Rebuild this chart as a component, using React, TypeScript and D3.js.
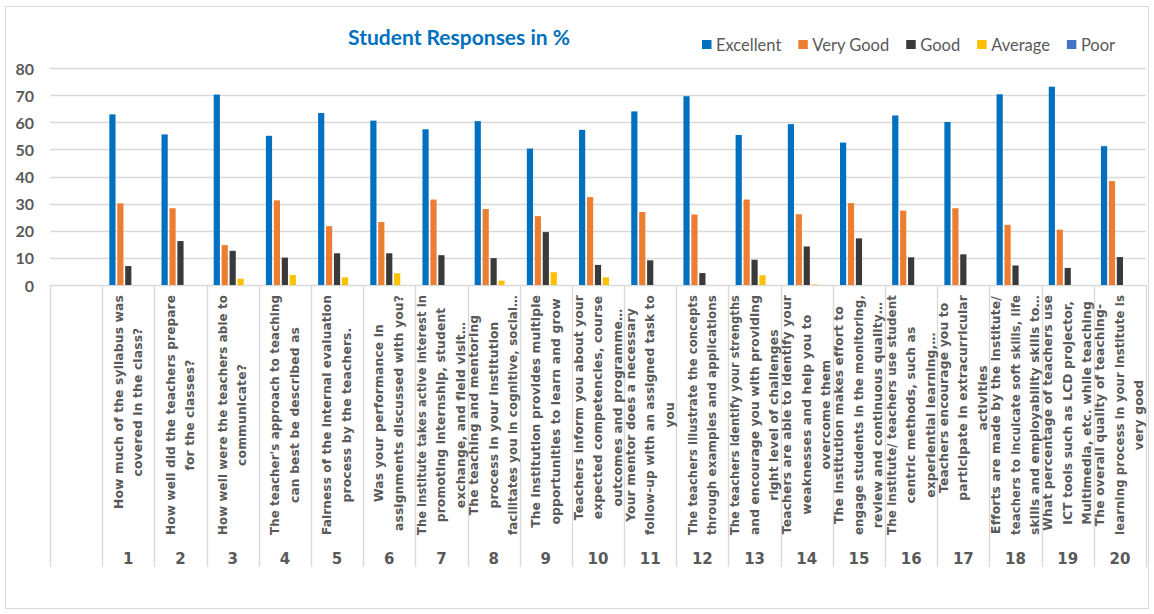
import { useEffect, useRef } from 'react';
import * as d3 from 'd3';

const chartTitle = 'Student Responses in %';
const seriesNames = ['Excellent', 'Very Good', 'Good', 'Average', 'Poor'];
const seriesColors = ['#0070C0', '#ED7D31', '#3A3A3A', '#FFC000', '#4472C4'];
const questionNumbers = ['1', '2', '3', '4', '5', '6', '7', '8', '9', '10', '11', '12', '13', '14', '15', '16', '17', '18', '19', '20'];

const excellent = [62.9, 55.5, 70.2, 55.0, 63.4, 60.6, 57.4, 60.4, 50.3, 57.2, 64.0, 69.6, 55.3, 59.3, 52.5, 62.5, 60.1, 70.3, 73.1, 51.2];
const veryGood = [30.1, 28.3, 14.7, 31.2, 21.7, 23.2, 31.5, 28.0, 25.4, 32.4, 26.9, 26.0, 31.5, 26.1, 30.2, 27.4, 28.3, 22.2, 20.4, 38.3];
const good = [7.0, 16.2, 12.6, 10.1, 11.7, 11.7, 11.0, 9.9, 19.5, 7.4, 9.1, 4.4, 9.3, 14.2, 17.2, 10.2, 11.3, 7.2, 6.3, 10.3];
const average = [0, 0, 2.3, 3.7, 2.8, 4.3, 0, 1.6, 4.7, 2.8, 0, 0, 3.6, 0.2, 0, 0, 0, 0, 0, 0];
const poor = [0, 0, 0, 0, 0, 0, 0, 0, 0, 0, 0, 0, 0, 0, 0, 0, 0, 0, 0, 0];

const yTicks = [0, 10, 20, 30, 40, 50, 60, 70, 80];

const questionLabels = [
  ['How much of the syllabus was', 'covered in the class?'],
  ['How well did the teachers prepare', 'for the classes?'],
  ['How well were the teachers able to', 'communicate?'],
  ["The teacher's approach to teaching", 'can best be described as'],
  ['Fairness of the internal evaluation', 'process by the teachers.'],
  ['Was your performance in', 'assignments discussed with you?'],
  ['The institute takes active interest in', 'promoting internship, student', 'exchange, and field visit…'],
  ['The teaching and mentoring', 'process in your institution', 'facilitates you in cognitive, social…'],
  ['The institution provides multiple', 'opportunities to learn and grow'],
  ['Teachers inform you about your', 'expected competencies, course', 'outcomes and programme…'],
  ['Your mentor does a necessary', 'follow-up with an assigned task to', 'you'],
  ['The teachers illustrate the concepts', 'through examples and applications'],
  ['The teachers identify your strengths', 'and encourage you with providing', 'right level of challenges'],
  ['Teachers are able to identify your', 'weaknesses and help you to', 'overcome them'],
  ['The institution makes effort to', 'engage students in the monitoring,', 'review and continuous quality…'],
  ['The institute/ teachers use student', 'centric methods, such as', 'experiential learning,…'],
  ['Teachers encourage you to', 'participate in extracurricular', 'activities'],
  ['Efforts are made by the institute/', 'teachers to inculcate soft skills, life', 'skills and employability skills to…'],
  ['What percentage of teachers use', 'ICT tools such as LCD projector,', 'Multimedia, etc. while teaching'],
  ['The overall quality of teaching-', 'learning process in your institute is', 'very good'],
];

const textGray = '#595959';
const gridGray = '#D9D9D9';

export default function App() {
  const svgRef = useRef<SVGSVGElement>(null);

  useEffect(() => {
    const svg = d3.select(svgRef.current);
    svg.selectAll('*').remove();

    const left = 50, right = 1146, top = 68, bottom = 285, tableBottom = 567;
    const cats = ['', ...questionNumbers];
    const x = d3.scaleBand().domain(cats).range([left, right]);
    const y = d3.scaleLinear().domain([0, 80]).range([bottom, top]);
    const xs = d3.scaleBand().domain(seriesNames).range([0, x.bandwidth()]).paddingInner(0.22).paddingOuter(0.9);
    const series = [excellent, veryGood, good, average, poor];

    // outer frame
    svg.append('rect')
      .attr('x', 5.5).attr('y', 6.5).attr('width', 1143).attr('height', 602)
      .attr('fill', '#fff').attr('stroke', gridGray);

    // title
    svg.append('text')
      .attr('x', 459).attr('y', 45)
      .attr('text-anchor', 'middle')
      .style('font-family', 'Lato, sans-serif').style('font-weight', 700).style('font-size', '21px')
      .attr('fill', '#0070C0')
      .text(chartTitle);

    // legend
    let lx = 702;
    seriesNames.forEach((name, i) => {
      svg.append('rect').attr('x', lx).attr('y', 40).attr('width', 9.5).attr('height', 9).attr('fill', seriesColors[i]);
      const t = svg.append('text')
        .attr('x', lx + 14).attr('y', 44.5)
        .attr('dominant-baseline', 'central')
        .style('font-family', 'Lato, sans-serif').style('font-size', '16.5px')
        .attr('fill', textGray)
        .text(name);
      const w = (t.node() as SVGTextElement).getComputedTextLength();
      lx += 14 + w + 17;
    });

    // gridlines
    svg.append('g').selectAll('line').data(yTicks).join('line')
      .attr('x1', left).attr('x2', right)
      .attr('y1', d => Math.round(y(d)) + 0.5).attr('y2', d => Math.round(y(d)) + 0.5)
      .attr('stroke', gridGray).attr('stroke-width', 1.3);

    // y axis labels
    svg.append('g').selectAll('text').data(yTicks).join('text')
      .attr('x', 34).attr('y', d => y(d))
      .attr('text-anchor', 'end').attr('dominant-baseline', 'central')
      .style('font-family', 'Lato, sans-serif').style('font-weight', 700).style('font-size', '16px')
      .attr('fill', textGray)
      .text(d => d);

    // bars
    series.forEach((vals, s) => {
      svg.append('g').selectAll('rect').data(vals).join('rect')
        .attr('x', (d, i) => (x(questionNumbers[i]) as number) + (xs(seriesNames[s]) as number))
        .attr('width', xs.bandwidth())
        .attr('y', d => y(d))
        .attr('height', d => y(0) - y(d))
        .attr('fill', seriesColors[s]);
    });

    // category table separators
    const seps = [...cats.map(c => x(c) as number), right];
    svg.append('g').selectAll('line').data(seps).join('line')
      .attr('x1', d => Math.round(d) + 0.5).attr('x2', d => Math.round(d) + 0.5)
      .attr('y1', bottom).attr('y2', tableBottom)
      .attr('stroke', gridGray).attr('stroke-width', 1.3);

    // question numbers
    svg.append('g').selectAll('text').data(questionNumbers).join('text')
      .attr('x', d => (x(d) as number) + x.bandwidth() / 2)
      .attr('y', 559)
      .attr('text-anchor', 'middle').attr('dominant-baseline', 'central')
      .style('font-family', '"DejaVu Sans", sans-serif').style('font-weight', 700).style('font-size', '15px')
      .attr('fill', textGray)
      .text(d => d);

    // rotated question labels
    const lineStep = 19.5;
    const labelTop = 295;
    const maxAllowed = 240;
    questionLabels.forEach((lines, i) => {
      const cx = (x(questionNumbers[i]) as number) + x.bandwidth() / 2;
      const g = svg.append('g');
      const texts = lines.map(ln => g.append('text')
        .attr('text-anchor', 'middle').attr('dominant-baseline', 'central')
        .style('font-family', '"DejaVu Sans", sans-serif').style('font-weight', 700).style('font-size', '12.3px')
        .style('letter-spacing', '0.15px')
        .attr('fill', textGray)
        .text(ln));
      const lens = texts.map(t => (t.node() as SVGTextElement).getComputedTextLength());
      texts.forEach((t, k) => {
        if (lens[k] > maxAllowed) {
          t.attr('textLength', maxAllowed).attr('lengthAdjust', 'spacingAndGlyphs');
          lens[k] = maxAllowed;
        }
      });
      const maxLen = d3.max(lens) || 0;
      const cy = labelTop + maxLen / 2;
      texts.forEach((t, k) => {
        const tx = cx + (k - (lines.length - 1) / 2) * lineStep;
        t.attr('transform', `translate(${tx},${cy}) rotate(-90)`);
      });
    });
  }, []);

  return (
    <svg ref={svgRef} width={1154} height={614} style={{ position: 'absolute', left: 0, top: 0, background: '#fff' }} />
  );
}
